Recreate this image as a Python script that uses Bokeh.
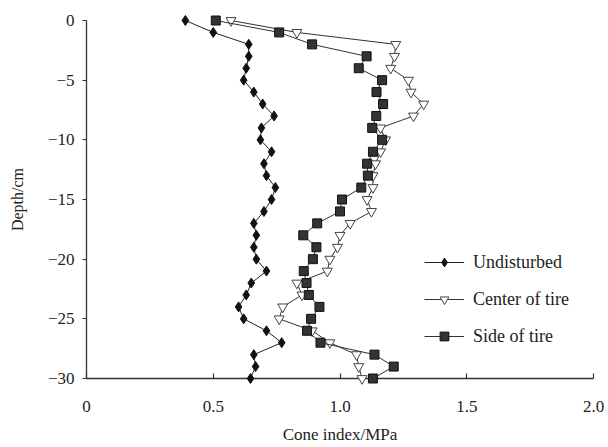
from bokeh.plotting import figure
from bokeh.embed import file_html
from bokeh.resources import INLINE
from bokeh.models import Range1d, FixedTicker, Legend, LegendItem

depth = [0, -1, -2, -3, -4, -5, -6, -7, -8, -9, -10, -11, -12, -13, -14, -15,
         -16, -17, -18, -19, -20, -21, -22, -23, -24, -25, -26, -27, -28, -29, -30]

undisturbed = [0.39, 0.50, 0.64, 0.64, 0.63, 0.62, 0.66, 0.695, 0.74, 0.69, 0.686,
               0.73, 0.70, 0.71, 0.745, 0.73, 0.70, 0.66, 0.67, 0.66, 0.67, 0.71,
               0.65, 0.63, 0.60, 0.62, 0.71, 0.77, 0.66, 0.667, 0.647]

center_tire = [0.57, 0.83, 1.22, 1.215, 1.20, 1.27, 1.28, 1.33, 1.29, 1.16, 1.18,
               1.16, 1.14, 1.13, 1.13, 1.107, 1.124, 1.04, 1.0, 0.99, 0.96, 0.95,
               0.83, 0.85, 0.774, 0.76, 0.89, 0.96, 1.065, 1.074, 1.087]

side_tire = [0.51, 0.76, 0.89, 1.105, 1.074, 1.166, 1.144, 1.17, 1.143, 1.127, 1.166,
             1.13, 1.107, 1.11, 1.084, 1.008, 1.0, 0.91, 0.855, 0.907, 0.893, 0.857,
             0.868, 0.877, 0.919, 0.886, 0.87, 0.923, 1.136, 1.212, 1.13]

x_ticks = [0, 0.5, 1.0, 1.5, 2.0]
x_tick_labels = ["0", "0.5", "1.0", "1.5", "2.0"]
y_ticks = [0, -5, -10, -15, -20, -25, -30]

FONT = "Liberation Serif"

p = figure(width=608, height=447, output_backend="svg", toolbar_location=None,
           x_range=Range1d(0, 2.0), y_range=Range1d(-30, 0),
           min_border_left=86, min_border_right=15, min_border_top=20, min_border_bottom=69)
p.outline_line_color = None
p.grid.visible = False
p.background_fill_color = "white"

for ax in (p.xaxis[0], p.yaxis[0]):
    ax.axis_line_color = "#333333"
    ax.axis_line_width = 1.3
    ax.major_tick_line_color = "#333333"
    ax.major_tick_line_width = 1.2
    ax.minor_tick_line_color = None
    ax.major_label_text_font = FONT
    ax.major_label_text_font_size = "17px"
    ax.major_label_text_color = "#222222"
    ax.axis_label_text_font = FONT
    ax.axis_label_text_font_style = "normal"
    ax.axis_label_text_color = "#222222"

p.xaxis.ticker = FixedTicker(ticks=x_ticks)
p.xaxis.major_label_overrides = {t: l for t, l in zip(x_ticks, x_tick_labels)}
p.xaxis.major_tick_in = 5
p.xaxis.major_tick_out = 0
p.xaxis.major_label_standoff = 22
p.xaxis.axis_label = "Cone index/MPa"
p.xaxis.axis_label_text_font_size = "17px"
p.xaxis.axis_label_standoff = 10

p.yaxis.ticker = FixedTicker(ticks=y_ticks)
p.yaxis.major_tick_in = 0
p.yaxis.major_tick_out = 4
p.yaxis.major_label_standoff = 8
p.yaxis.axis_label = "Depth/cm"
p.yaxis.axis_label_text_font_size = "16px"
p.yaxis.axis_label_standoff = 19

r1l = p.line(undisturbed, depth, line_color="#222222", line_width=1, level="overlay")
r1m = p.scatter(undisturbed, depth, marker="diamond", size=10,
                fill_color="#111111", line_color="#111111", level="overlay")
r2l = p.line(center_tire, depth, line_color="#333333", line_width=1, level="overlay")
r2m = p.scatter(center_tire, depth, marker="inverted_triangle", size=10,
                fill_color="white", line_color="#444444", line_width=1, level="overlay")
r3l = p.line(side_tire, depth, line_color="#333333", line_width=1, level="overlay")
r3m = p.scatter(side_tire, depth, marker="square", size=9,
                fill_color="#333333", line_color="#111111", level="overlay")

legend = Legend(items=[
    LegendItem(label="Undisturbed", renderers=[r1l, r1m]),
    LegendItem(label="Center of tire", renderers=[r2l, r2m]),
    LegendItem(label="Side of tire", renderers=[r3l, r3m]),
], location=(338, 31))
legend.border_line_color = None
legend.background_fill_alpha = 0
legend.label_text_font = FONT
legend.label_text_font_size = "18px"
legend.label_text_color = "#222222"
legend.glyph_width = 40
legend.glyph_height = 22
legend.label_height = 22
legend.spacing = 15
legend.label_standoff = 9
legend.padding = 0
legend.margin = 0
p.add_layout(legend, "center")

open("out.html", "w").write(file_html(p, INLINE))
